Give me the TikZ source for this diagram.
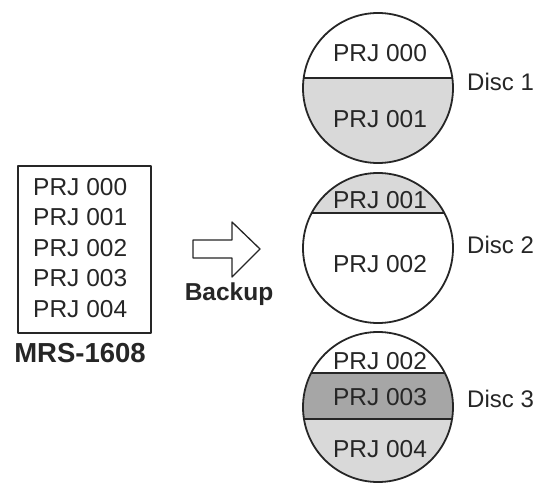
\documentclass[tikz,border=0pt]{standalone}
\usepackage{fontspec}
\setmainfont{Liberation Sans}
\usepackage{tikz}
\usetikzlibrary{arrows}
\definecolor{disclight}{HTML}{D9D9D9}
\definecolor{discdark}{HTML}{A6A6A6}

\begin{document}
\begin{tikzpicture}
    [line cap=round,line join=round,x=1pt,y=-1pt,
     prj/.style={font=\fontsize{24.5}{25}\selectfont,inner sep=0pt,text=black!85},
     lbl/.style={font=\fontsize{24}{24}\selectfont,inner sep=0pt,text=black!85},
     disc/.style={line width=1.8pt,draw=black!85}]
\useasboundingbox (0,0) rectangle (545,487);
%left list of projects
 \draw[line width=1.3pt,draw=black!85] (18,166) rectangle (151,333);
  \node[prj,anchor=base west] (l0) at (33,195) {PRJ 000};
  \node[prj,anchor=base west] (l1) at (33,225.5) {PRJ 001};
  \node[prj,anchor=base west] (l2) at (33,256) {PRJ 002};
  \node[prj,anchor=base west] (l3) at (33,286.5) {PRJ 003};
  \node[prj,anchor=base west] (l4) at (33,317) {PRJ 004};
  \node[lbl,font=\fontsize{27.5}{28}\selectfont\bfseries,anchor=base] (mrs) at (80,362) {MRS-1608};
%the arrow
 \draw[line width=1.3pt,draw=black!85,fill=white] (193,240) -- (232,240) -- (232,222) -- (260,249)
      -- (232,277) -- (232,258) -- (193,258) -- cycle;
  \node[lbl,font=\fontsize{24.5}{25}\selectfont\bfseries,anchor=base] (backup) at (229,300) {Backup};
%disc 1
 \begin{scope}
  \clip (378,88) circle (75);
  \fill[disclight] (300,78) rectangle (460,170);
  \draw[disc] (300,78) -- (460,78);
 \end{scope}
 \draw[disc] (378,88) circle (75);
  \node[prj,anchor=base] (d1a) at (380,61) {PRJ 000};
  \node[prj,anchor=base] (d1b) at (380,127) {PRJ 001};
  \node[lbl,anchor=base west] (disc1) at (467,90) {Disc 1};
%disc 2
 \begin{scope}
  \clip (378,248) circle (75);
  \fill[disclight] (300,170) rectangle (460,213);
  \draw[disc] (300,213) -- (460,213);
 \end{scope}
 \draw[disc] (378,248) circle (75);
  \node[prj,anchor=base] (d2a) at (380,208) {PRJ 001};
  \node[prj,anchor=base] (d2b) at (380,272) {PRJ 002};
  \node[lbl,anchor=base west] (disc2) at (467,253) {Disc 2};
%disc 3
 \begin{scope}
  \clip (378,407) circle (75);
  \fill[discdark] (300,373) rectangle (460,419);
  \fill[disclight] (300,419) rectangle (460,490);
  \draw[disc] (300,373) -- (460,373);
  \draw[disc] (300,419) -- (460,419);
 \end{scope}
 \draw[disc] (378,407) circle (75);
  \node[prj,anchor=base] (d3a) at (380,369) {PRJ 002};
  \node[prj,anchor=base] (d3b) at (380,405) {PRJ 003};
  \node[prj,anchor=base] (d3c) at (380,457) {PRJ 004};
  \node[lbl,anchor=base west] (disc3) at (467,407) {Disc 3};
\end{tikzpicture}
\end{document}
